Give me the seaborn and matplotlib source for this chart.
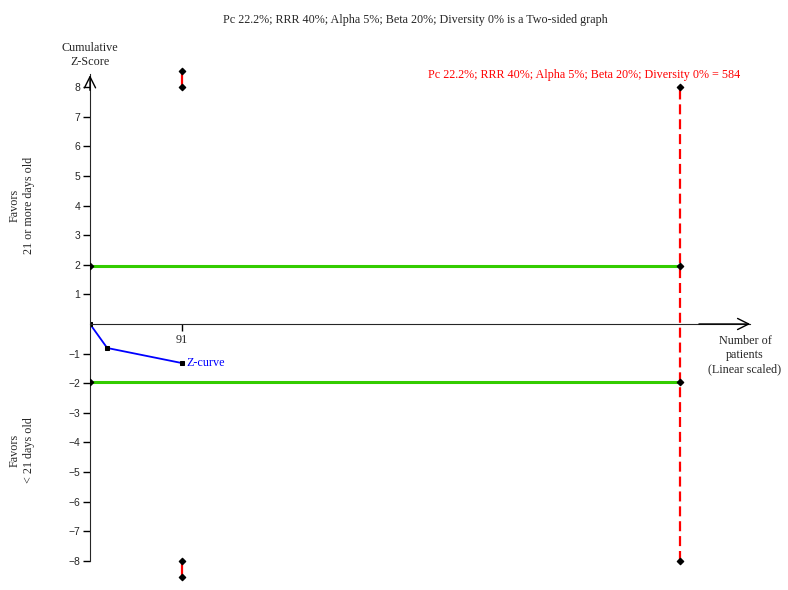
import numpy as np
import pandas as pd
import matplotlib
matplotlib.use('Agg')
import matplotlib.pyplot as plt
import seaborn as sns

# values
z_patients = [0, 17, 91]
z_scores = [0.0, -0.81, -1.32]
ris = 584
conv_bound = 1.96
display_cap = 8
interim_x = [91]
boundary_z = [8.55]
y_ticks = [-8, -7, -6, -5, -4, -3, -2, -1, 1, 2, 3, 4, 5, 6, 7, 8]
title = 'Pc 22.2%; RRR 40%; Alpha 5%; Beta 20%; Diversity 0% is a Two-sided graph'
ris_label = 'Pc 22.2%; RRR 40%; Alpha 5%; Beta 20%; Diversity 0% = 584'

sns.set_style('white')
serif = ['Liberation Serif', 'DejaVu Serif']
sans = ['Liberation Sans', 'DejaVu Sans']

fig = plt.figure(figsize=(7.88, 5.90), dpi=100)
px_y = 29.6
px_x = 590 / ris
ymin, ymax = -(590 - 324) / px_y, 9.6
ax = fig.add_axes([90 / 788, 0, 680 / 788, (266 + ymax * px_y) / 590])
ax.set_xlim(0, 680 / px_x)
ax.set_ylim(ymin, ymax)

# axes through the origin, with open arrow heads
for s in ['top', 'right']:
    ax.spines[s].set_visible(False)
ax.spines['bottom'].set_position(('data', 0))
ax.spines['left'].set_bounds(-8, 8.45)
ax.spines['bottom'].set_bounds(0, 660 / px_x)
ax.annotate('', xy=(0, 8.5), xytext=(0, 7.8), annotation_clip=False,
            arrowprops=dict(arrowstyle='->', lw=1, color='black', mutation_scale=20))
ax.annotate('', xy=(663 / px_x, 0), xytext=(600, 0), annotation_clip=False,
            arrowprops=dict(arrowstyle='->', lw=1, color='black', mutation_scale=20))

# conventional boundaries
bounds = pd.DataFrame({'x': [0, ris, 0, ris],
                       'z': [conv_bound, conv_bound, -conv_bound, -conv_bound],
                       'side': ['up', 'up', 'low', 'low']})
sns.lineplot(data=bounds, x='x', y='z', units='side', estimator=None,
             color='#33cc00', lw=2.2, ax=ax, legend=False)
ax.scatter(bounds['x'], bounds['z'], marker='D', s=10, color='black', zorder=5)

# required information size
ris_df = pd.DataFrame({'x': [ris, ris], 'z': [-display_cap, display_cap]})
sns.lineplot(data=ris_df, x='x', y='z', color='red', lw=1.6, ax=ax, estimator=None,
             linestyle=(0, (4.5, 2.2)), sort=False)
ax.scatter(ris_df['x'], ris_df['z'], marker='D', s=10, color='black', zorder=5)

# truncated monitoring boundaries at the interim look
for x, b in zip(interim_x, boundary_z):
    for sign in (1, -1):
        seg = pd.DataFrame({'x': [x, x], 'z': [sign * display_cap, sign * b]})
        sns.lineplot(data=seg, x='x', y='z', color='red', lw=1.6, ax=ax,
                     estimator=None, sort=False)
        ax.scatter(seg['x'], seg['z'], marker='D', s=10, color='black', zorder=5, clip_on=False)

# cumulative z-curve
zc = pd.DataFrame({'n': z_patients, 'z': z_scores})
sns.lineplot(data=zc, x='n', y='z', color='blue', lw=1.3, marker='s', estimator=None,
             markersize=3, markeredgecolor='black', markerfacecolor='black', ax=ax, sort=False)
ax.text(z_patients[-1] + 4, z_scores[-1], 'Z-curve', color='blue', fontsize=8.7,
        family=serif, va='center', ha='left')

ax.set_xlabel('')
ax.set_ylabel('')
ax.set_yticks(y_ticks)
ax.set_yticklabels([f'\u2212{abs(t)}' if t < 0 else str(t) for t in y_ticks],
                   family=sans, fontsize=7.5)
ax.set_xticks(interim_x)
ax.set_xticklabels([str(v) for v in interim_x], family=serif, fontsize=8.7)
ax.tick_params(axis='both', direction='out', length=5, width=1, color='black', pad=2)
ax.tick_params(axis='y', left=True)
ax.tick_params(axis='x', bottom=True)

fig.text(415 / 788, 1 - 20 / 590, title, ha='center', va='center', fontsize=8.7, family=serif)
ax.text(650 / px_x, 8.2, ris_label, ha='right', va='bottom', color='red', fontsize=8.7, family=serif)
fig.text(90 / 788, 1 - 55 / 590, 'Cumulative\nZ-Score', ha='center', va='center',
         fontsize=8.7, family=serif, linespacing=1.2)
fig.text(745 / 788, 1 - 355 / 590, 'Number of\npatients\n(Linear scaled)', ha='center',
         va='center', fontsize=8.7, family=serif, linespacing=1.2)
fig.text(22 / 788, 1 - 205 / 590, 'Favors\n21 or more days old', rotation=90, ha='center',
         va='center', fontsize=8.7, family=serif, linespacing=1.25)
fig.text(22 / 788, 1 - 450 / 590, 'Favors\n< 21 days old', rotation=90, ha='center',
         va='center', fontsize=8.7, family=serif, linespacing=1.25)

fig.savefig('out.png', dpi=100)
